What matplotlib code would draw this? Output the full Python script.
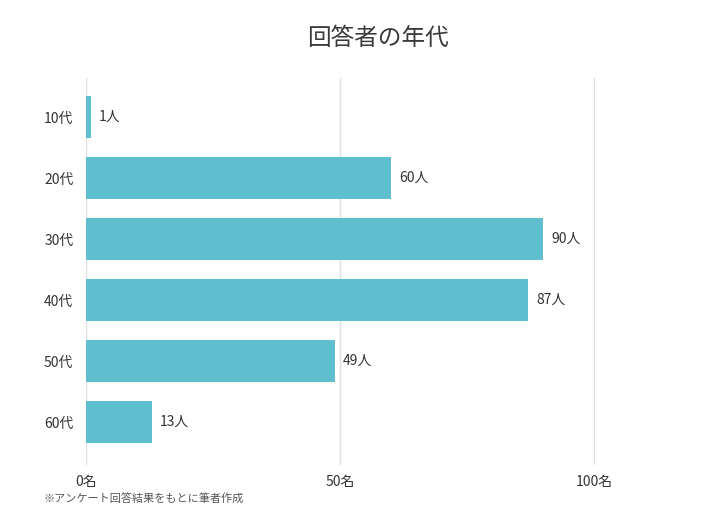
import matplotlib
matplotlib.use("Agg")
import matplotlib.pyplot as plt

plt.rcParams['font.family'] = ['Noto Sans CJK JP', 'DejaVu Sans']

categories = ["10代", "20代", "30代", "40代", "50代", "60代"]
counts = [1, 60, 90, 87, 49, 13]
xticks = [0, 50, 100]
xtick_labels = ["0名", "50名", "100名"]

bar_color = "#5fbfcf"
text_color = "#333333"

fig = plt.figure(figsize=(7.2, 5.24), dpi=100)
ax = fig.add_axes([0.1194, 0.1126, 0.7070, 0.7384])

y = list(range(len(categories)))
ax.barh(y, counts, height=0.69, color=bar_color, zorder=2)
for yi, v in zip(y, counts):
    ax.text(v + 1.6, yi, f"{v}人", va="center", ha="left", fontsize=10, color=text_color)

ax.set_xlim(0, 100.2)
ax.set_ylim(5.70, -0.64)
ax.set_yticks(y)
ax.set_yticklabels(categories, fontsize=10, color=text_color)
ax.set_xticks(xticks)
ax.set_xticklabels(xtick_labels, fontsize=10, color=text_color)
ax.tick_params(axis="x", length=0, pad=7)
ax.tick_params(axis="y", length=0, pad=9)
ax.grid(axis="x", color="#e0e0e0", linewidth=1, zorder=0)
for s in ax.spines.values():
    s.set_visible(False)

fig.text(0.525, 0.927, "回答者の年代", ha="center", va="center", fontsize=17,
         color="#3a3a3a")
fig.text(0.06, 0.048, "※アンケート回答結果をもとに筆者作成", ha="left", va="center", fontsize=8, color="#555555")

fig.savefig("out.png", dpi=100)
